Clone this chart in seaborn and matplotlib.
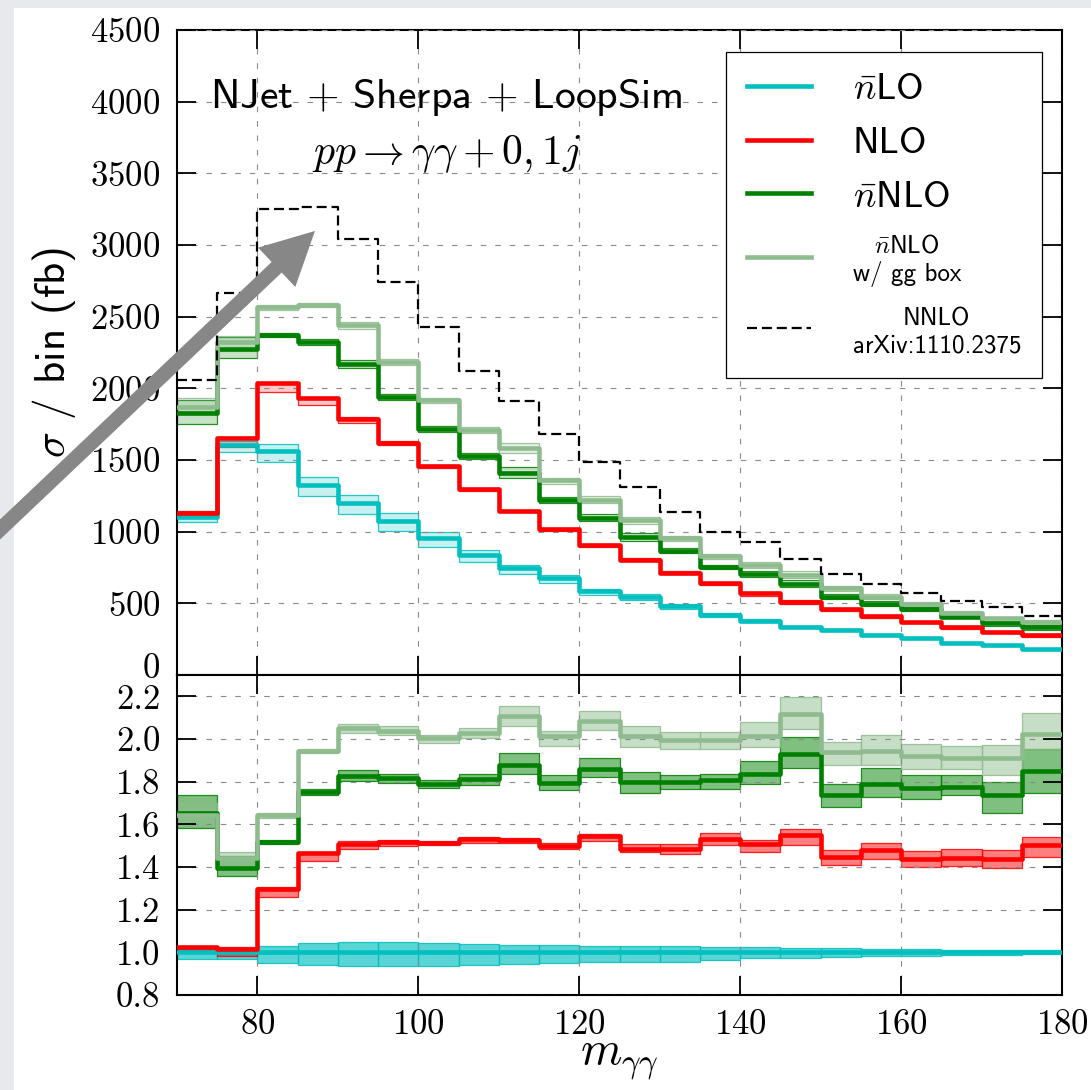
import numpy as np
import pandas as pd
import matplotlib
matplotlib.use("Agg")
import matplotlib.pyplot as plt
from matplotlib.patches import Rectangle
from matplotlib.colors import to_rgba
from matplotlib.ticker import FormatStrFormatter
from matplotlib.transforms import ScaledTranslation
import seaborn as sns

# ---- binning (diphoton invariant mass, GeV) ----
bin_lo = [70, 75, 80, 85, 90, 95, 100, 105, 110, 115, 120,
          125, 130, 135, 140, 145, 150, 155, 160, 165, 170, 175]
bin_width = 5

# ---- cross section per bin (fb) ----
xs_nlo_bar = [1100, 1605, 1565, 1326, 1198, 1077, 953, 837, 744, 674, 584,
              547, 481, 419, 379, 333, 314, 279, 256, 226, 207, 183]
xs_nlo = [1132, 1651, 2035, 1930, 1784, 1621, 1458, 1295, 1144, 1016, 907,
          802, 714, 640, 570, 512, 458, 412, 370, 333, 300, 277]
xs_nnlo_bar = [1830, 2272, 2372, 2324, 2167, 1942, 1716, 1528, 1407, 1221, 1097,
               965, 867, 756, 702, 635, 547, 495, 458, 407, 360, 333]
xs_nnlo_bar_gg = [1872, 2320, 2565, 2581, 2442, 2181, 1919, 1709, 1581, 1360, 1224,
                  1081, 953, 830, 767, 698, 605, 547, 493, 435, 395, 367]
xs_nnlo_ref = [2058, 2668, 3249, 3263, 3040, 2744, 2426, 2121, 1912, 1681, 1488,
               1309, 1140, 1000, 928, 809, 702, 633, 570, 519, 472, 414]

# ---- ratios to nbar-LO, with scale-variation envelopes ----
r_nlo_bar_lo = [0.970, 0.970, 0.950, 0.941, 0.935, 0.935, 0.938, 0.941, 0.945, 0.950, 0.953,
                0.953, 0.957, 0.962, 0.972, 0.975, 0.978, 0.981, 0.983, 0.986, 0.988, 0.990]
r_nlo_bar_hi = [1.016, 1.016, 1.028, 1.044, 1.047, 1.047, 1.044, 1.039, 1.036, 1.034, 1.031,
                1.031, 1.029, 1.026, 1.026, 1.022, 1.019, 1.016, 1.014, 1.012, 1.011, 1.009]

r_nlo = [1.023, 1.016, 1.299, 1.464, 1.506, 1.517, 1.514, 1.530, 1.527, 1.499, 1.545,
         1.486, 1.486, 1.533, 1.510, 1.549, 1.447, 1.478, 1.439, 1.443, 1.436, 1.502]
r_nlo_lo = [1.008, 0.981, 1.260, 1.429, 1.483, 1.499, 1.503, 1.514, 1.514, 1.483, 1.522,
            1.468, 1.463, 1.505, 1.468, 1.502, 1.408, 1.436, 1.400, 1.404, 1.396, 1.447]
r_nlo_hi = [1.031, 1.023, 1.304, 1.471, 1.522, 1.527, 1.522, 1.542, 1.538, 1.514, 1.556,
            1.510, 1.506, 1.559, 1.525, 1.580, 1.478, 1.513, 1.474, 1.486, 1.478, 1.541]

r_nnlo_bar = [1.655, 1.397, 1.519, 1.751, 1.826, 1.818, 1.790, 1.813, 1.880, 1.795, 1.860,
              1.798, 1.798, 1.806, 1.837, 1.930, 1.736, 1.790, 1.770, 1.775, 1.736, 1.852]
r_nnlo_bar_lo = [1.584, 1.358, 1.508, 1.736, 1.803, 1.795, 1.768, 1.784, 1.838, 1.760, 1.823,
                 1.748, 1.767, 1.767, 1.790, 1.863, 1.681, 1.729, 1.720, 1.736, 1.655, 1.748]
r_nnlo_bar_hi = [1.736, 1.452, 1.527, 1.767, 1.854, 1.838, 1.810, 1.834, 1.935, 1.829, 1.909,
                 1.845, 1.832, 1.837, 1.899, 2.008, 1.790, 1.863, 1.832, 1.832, 1.798, 1.954]

r_gg = [1.645, 1.444, 1.644, 1.946, 2.052, 2.036, 2.005, 2.029, 2.106, 2.013, 2.083,
        2.016, 1.993, 1.996, 2.016, 2.117, 1.938, 1.946, 1.918, 1.910, 1.910, 2.024]
r_gg_lo = [1.600, 1.405, 1.631, 1.935, 2.029, 2.021, 1.982, 2.005, 2.060, 1.969, 2.044,
           1.962, 1.954, 1.954, 1.962, 2.047, 1.876, 1.876, 1.860, 1.860, 1.829, 1.954]
r_gg_hi = [1.700, 1.471, 1.655, 1.955, 2.072, 2.060, 2.021, 2.052, 2.153, 2.036, 2.130,
           2.060, 2.032, 2.032, 2.078, 2.195, 1.988, 2.019, 1.977, 1.969, 1.972, 2.122]

labels = [r"$\bar{n}$LO", "NLO", r"$\bar{n}$NLO",
          "$\\bar{n}$NLO\nw/ gg box", "NNLO\narXiv:1110.2375"]
colors = ["#00bfbf", "#ff0000", "#008000", "#8fbc8f", "black"]

# ---- style ----
plt.rcParams["font.family"] = ["cmss10", "DejaVu Sans"]
plt.rcParams["mathtext.fontset"] = "cm"
plt.rcParams["axes.unicode_minus"] = False
plt.rcParams["axes.formatter.use_mathtext"] = True

fig = plt.figure(figsize=(10.91, 10.90), dpi=100)
fig.patch.set_facecolor("#e8e9ed")
fig.add_artist(Rectangle((14 / 1091, 0), 1, 1 - 8 / 1090, transform=fig.transFigure,
                         facecolor="white", edgecolor="none", zorder=-10))

ax1 = fig.add_axes([0.16224, 0.38073, 0.81118, 0.59174])
ax2 = fig.add_axes([0.16224, 0.08716, 0.81118, 0.29358], sharex=ax1)

edges = bin_lo + [bin_lo[-1] + bin_width]
LW = 3.3


def stairs(ax, vals, color, lw, ls="-", zorder=4):
    df = pd.DataFrame({"m": edges, "v": list(vals) + [vals[-1]]})
    sns.lineplot(data=df, x="m", y="v", ax=ax, color=color, lw=lw, linestyle=ls,
                 drawstyle="steps-post", estimator=None, sort=False, zorder=zorder)
    return ax.lines[-1]


def band(ax, lo, hi, color, alpha, zorder=2):
    lo = np.asarray(lo, float)
    hi = np.asarray(hi, float)
    ax.bar(bin_lo, hi - lo, bottom=lo, width=bin_width, align="edge",
           facecolor=to_rgba(color, alpha), edgecolor=to_rgba(color, 0.85),
           linewidth=0.9, zorder=zorder)


# ---- upper panel: absolute cross sections ----
ones = np.ones(len(bin_lo))
series = [
    (xs_nlo_bar, ones, r_nlo_bar_lo, r_nlo_bar_hi, colors[0]),
    (xs_nlo, r_nlo, r_nlo_lo, r_nlo_hi, colors[1]),
    (xs_nnlo_bar, r_nnlo_bar, r_nnlo_bar_lo, r_nnlo_bar_hi, colors[2]),
    (xs_nnlo_bar_gg, r_gg, r_gg_lo, r_gg_hi, colors[3]),
]
handles = []
for k, (xs, rc, rl, rh, col) in enumerate(series):
    xs_a = np.asarray(xs, float)
    band(ax1, xs_a * np.asarray(rl) / np.asarray(rc), xs_a * np.asarray(rh) / np.asarray(rc),
         col, 0.22, zorder=2 + 0.1 * k)
    handles.append(stairs(ax1, xs, col, LW, zorder=4 + 0.1 * k))
handles.append(stairs(ax1, xs_nnlo_ref, "black", 1.6, ls=(0, (4.5, 2.2)), zorder=5))

# ---- lower panel: ratios ----
band(ax2, r_nlo_bar_lo, r_nlo_bar_hi, colors[0], 0.65, zorder=2)
stairs(ax2, list(ones), colors[0], LW, zorder=4)
band(ax2, r_nlo_lo, r_nlo_hi, colors[1], 0.5, zorder=2.1)
stairs(ax2, r_nlo, colors[1], LW, zorder=4.1)
band(ax2, r_nnlo_bar_lo, r_nnlo_bar_hi, colors[2], 0.5, zorder=2.2)
stairs(ax2, r_nnlo_bar, colors[2], LW, zorder=4.2)
band(ax2, r_gg_lo, r_gg_hi, colors[3], 0.5, zorder=2.3)
stairs(ax2, r_gg, colors[3], LW, zorder=4.3)

# ---- axes cosmetics ----
for ax in (ax1, ax2):
    ax.set_xlim(70, 180)
    ax.set_xticks([80, 100, 120, 140, 160, 180])
    ax.tick_params(which="major", direction="in", length=14, width=1.3, top=True, right=True,
                   labelsize=25, labelfontfamily="cmr10")
    ax.tick_params(axis="x", pad=10)
    ax.tick_params(axis="y", pad=12)
    ax.grid(True, color="#8a8a8a", lw=0.8, ls=(0, (5, 8)))
    ax.set_axisbelow(False)
    for sp in ax.spines.values():
        sp.set_linewidth(1.5)
    ax.set_xlabel("")
    ax.set_ylabel("")

ax1.set_ylim(0, 4500)
ax1.set_yticks(np.arange(0, 4501, 500))
ax1.tick_params(labelbottom=False)
ax2.set_ylim(0.8, 2.3)
ax2.set_yticks([0.8, 1.0, 1.2, 1.4, 1.6, 1.8, 2.0, 2.2])
ax2.yaxis.set_major_formatter(FormatStrFormatter("%.1f"))

# lift the "0" of the upper panel off the ratio panel's "2.2"
zero_lbl = ax1.yaxis.get_major_ticks()[0].label1
zero_lbl.set_transform(zero_lbl.get_transform() + ScaledTranslation(0, 7 / 72, fig.dpi_scale_trans))

ax1.set_ylabel(r"$\sigma$ / bin (fb)", fontsize=31)
ax1.yaxis.set_label_coords(-0.112, 0.5)
ax2.set_xlabel(r"$m_{\gamma\gamma}$", fontsize=34)
ax2.xaxis.label.set_va("bottom")
ax2.xaxis.set_label_coords(0.5, -0.272)

ax1.text(0.304, 0.896, "NJet $+$ Sherpa $+$ LoopSim", transform=ax1.transAxes,
         ha="center", va="center", fontsize=30)
ax1.text(0.304, 0.808, r"$pp \to \gamma\gamma + 0, 1j$", transform=ax1.transAxes,
         ha="center", va="center", fontsize=30)

leg = ax1.legend(handles, labels, loc="upper right", bbox_to_anchor=(0.977, 0.966),
                 borderaxespad=0, fontsize=27, frameon=True, fancybox=False,
                 framealpha=1, edgecolor="black", handlelength=1.7, handletextpad=1.12,
                 borderpad=0.55, labelspacing=0.55)
leg.get_frame().set_linewidth(0.9)
for t in leg.get_texts()[3:]:
    t.set_fontsize(18)
    t.set_multialignment("center")

# ---- pointer arrow ----
ann = ax1.annotate("", xy=(87.15, 3098), xycoords="data",
                   xytext=(-0.0101, 0.5046), textcoords="figure fraction",
                   arrowprops=dict(facecolor="#878787", edgecolor="none",
                                   width=10.5, headwidth=39, headlength=38),
                   annotation_clip=False, zorder=20)
ann.arrow_patch.set_clip_on(False)

fig.savefig("out.png", dpi=100, facecolor=fig.get_facecolor())
